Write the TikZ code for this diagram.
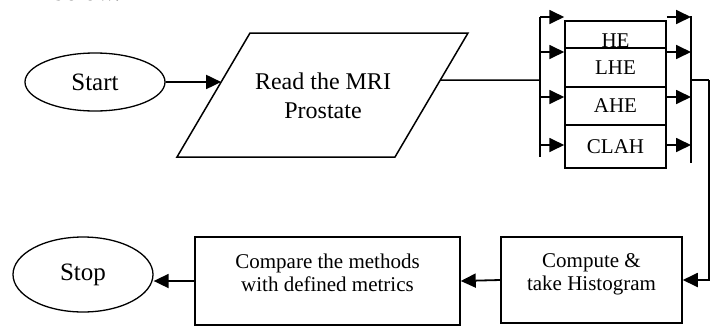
\documentclass[tikz,border=0pt]{standalone}
\usepackage{fontspec}
\setmainfont{Liberation Serif}
\usetikzlibrary{shapes.geometric,arrows.meta,calc}

\newcommand{\acima}[1]{\raisebox{6pt}[\height][\depth]{\begin{tabular}{@{}c@{}}#1\end{tabular}}}

\begin{document}
\begin{tikzpicture}[
		x=1pt, y=-1pt,
		elipse/.style={
			draw,
			ellipse,
			minimum width=140pt,
			inner sep=0pt,
			line width=1.3pt,
			font=\fontsize{25}{30}\selectfont
		},
		caixa/.style={
			draw,
			rectangle,
			fill=white,
			minimum width=101pt,
			inner sep=0pt,
			align=center,
			line width=1.5pt,
			font=\fontsize{21}{23}\selectfont
		},
		seta/.style={
			-{Triangle[length=15pt,width=14pt]},
			line width=1.8pt
		}
		]
		
		\useasboundingbox (0,0) rectangle (716,325);
		
		\node[anchor=base west, inner sep=0pt, font=\fontsize{26}{30}\selectfont] (abaixo) at (52,0.5) {below.};
		
		\node[elipse, minimum height=58pt] (start) at (95,82) {Start};
		
		%Paralelogramo
		\coordinate (rtl) at (250,33);
		\coordinate (rtr) at (468,33);
		\coordinate (rbr) at (395,157);
		\coordinate (rbl) at (177,157);
		\draw[line width=1.5pt] (rtl) -- (rtr) -- (rbr) -- (rbl) -- cycle;
		\node[align=center, inner sep=0pt, font=\fontsize{24}{29}\selectfont] (read) at (323,96) {Read the MRI\\Prostate};
		
		\node[caixa, minimum height=40pt] (he) at (615.5,41) {HE};
		\node[caixa, minimum height=39pt] (lhe) at (615.5,67.5) {LHE};
		\node[caixa, minimum height=38pt] (ahe) at (615.5,106) {AHE};
		\node[caixa, minimum height=43pt] (clah) at (615.5,146.5) {CLAH};
		
		\node[caixa, minimum width=181pt, minimum height=86pt] (cpt) at (591.5,280) {\acima{Compute \&\\take Histogram}};
		\node[caixa, minimum width=265pt, minimum height=88pt] (cmp) at (327.5,281) {\acima{Compare the methods\\with defined metrics}};
		\node[elipse, minimum height=75pt] (stop) at (83,274.5) {Stop};
		
		\coordinate (readin) at ($(rtl)!0.395!(rbl)$);
		\coordinate (readout) at ($(rtr)!0.38!(rbr)$);
		\coordinate (lbus) at (540,80);
		\coordinate (rbus) at (691,80);
		\coordinate (desce) at (709,80);
		
		%Linhas
		\draw[seta] (start.east) -- (readin);
		\draw[line width=1.5pt] (readout) -- (lbus);
		\draw[line width=1.8pt] (540,17) -- (540,157);
		\draw[line width=1.8pt] (691,16) -- (691,163);
		\foreach \y/\t in {17/he, 52/lhe, 97/ahe, 145/clah}{
			\draw[seta] (540,\y) -- (\t.west |- 540,\y);
			\draw[seta] (\t.east |- 666,\y) -- (691,\y);
		}
		\draw[line width=1.5pt] (rbus) -- (desce);
		\draw[seta] (desce) |- (cpt.east);
		\draw[seta] (cpt.west) -- (cmp.east);
		\draw[seta] (cmp.west) -- (cmp.west -| stop.east);
		
	\end{tikzpicture}
\end{document}
